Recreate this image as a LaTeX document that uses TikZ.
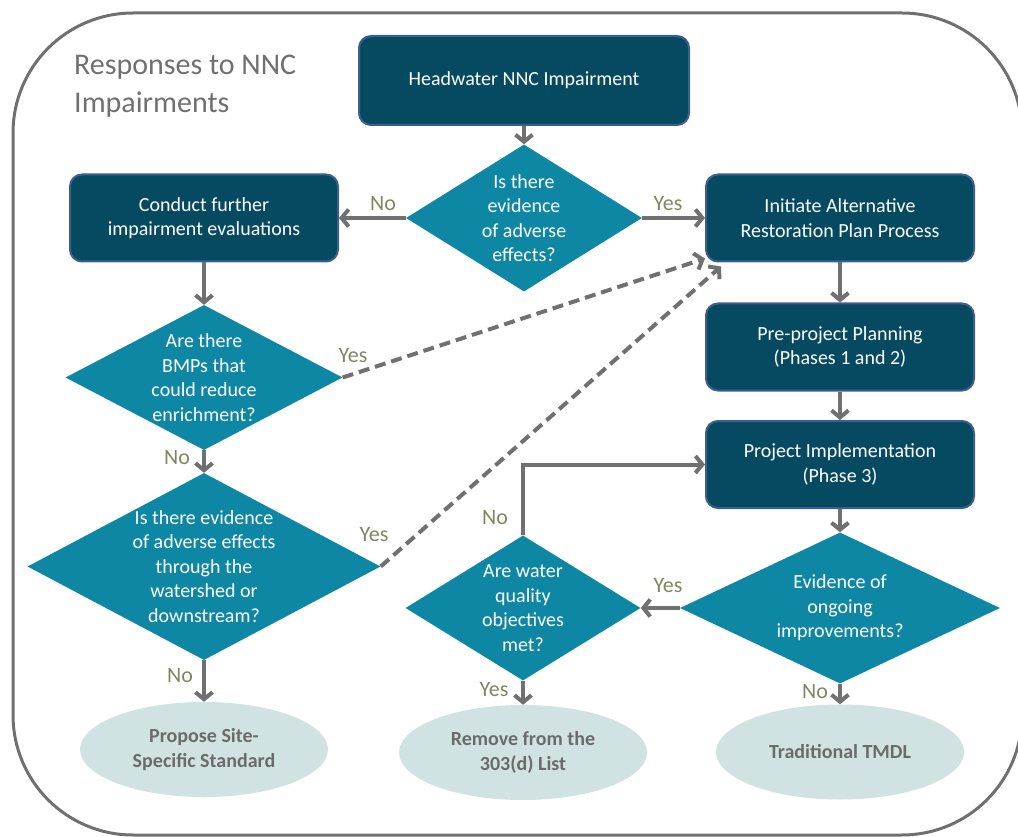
\documentclass[tikz,border=0pt]{standalone}
\usepackage{fontspec}
\setmainfont{Carlito}
\usetikzlibrary{shapes.geometric,arrows.meta}
\definecolor{boxblue}{HTML}{064A62}
\definecolor{boxedge}{HTML}{3C5F8E}
\definecolor{qteal}{HTML}{0E87A4}
\definecolor{endfill}{HTML}{D0E3E2}
\definecolor{endtext}{HTML}{6B6B6B}
\definecolor{linegray}{HTML}{707070}
\definecolor{labolive}{HTML}{7F8760}
\tikzset{
    frame/.style={draw=linegray, line width=3pt, rounded corners=120pt},
    stepbox/.style={draw=boxedge, line width=2pt, fill=boxblue, rounded corners=12pt,
      minimum width=268pt, minimum height=87pt, inner sep=0pt,
      text=white, align=center, font=\fontsize{20}{24.5}\selectfont},
    decision/.style={diamond, fill=qteal, inner sep=0pt},
    qtext/.style={text=white, align=center, inner sep=0pt, font=\fontsize{20}{24.5}\selectfont},
    endpoint/.style={ellipse, fill=endfill, minimum width=248pt, minimum height=95pt, inner sep=0pt,
      text=endtext, align=center, font=\bfseries\fontsize{20}{24.5}\selectfont},
    conn/.style={draw=linegray, line width=4pt, -{Straight Barb[length=7pt,width=17pt]}},
    maybe/.style={conn, dash pattern=on 11pt off 6pt},
    answer/.style={text=labolive, inner sep=0pt, font=\fontsize{22}{26}\selectfont},
  }
\begin{document}
\begin{tikzpicture}[x=1pt,y=-1pt]
    \useasboundingbox (0,0) rectangle (1018,837);
    \draw [frame] (13,13) rectangle (1022,835);
    \node [anchor=north west, inner sep=0pt, align=left, text=linegray,
      font=\fontsize{30}{38}\selectfont] (title) at (74,55) {Responses to NNC\\Impairments};
    % boxes
    \node [stepbox, minimum width=330pt, minimum height=89pt] (head) at (524,80.5) {Headwater NNC Impairment};
    \node [stepbox] (conduct) at (204,218) {Conduct further\\impairment evaluations};
    \node [stepbox] (init) at (840,218) {Initiate Alternative\\Restoration Plan Process};
    \node [stepbox] (pre) at (840,347) {Pre-project Planning\\(Phases 1 and 2)};
    \node [stepbox] (impl) at (840,464.5) {Project Implementation\\(Phase 3)};
    % questions
    \node [decision, minimum width=236pt, minimum height=147pt] (q1) at (524,218) {};
    \node [qtext] (q1t) at (q1) {Is there\\evidence\\of adverse\\effects?};
    \node [decision, minimum width=277pt, minimum height=145pt] (q2) at (204,377.5) {};
    \node [qtext] (q2t) at (q2) {Are there\\BMPs that\\could reduce\\enrichment?};
    \node [decision, minimum width=353pt, minimum height=187pt] (q3) at (204,566.5) {};
    \node [qtext] (q3t) at (q3) {Is there evidence\\of adverse effects\\through the\\watershed or\\downstream?};
    \node [decision, minimum width=235pt, minimum height=145pt] (q4) at (523,608) {};
    \node [qtext] (q4t) at (q4) {Are water\\quality\\objectives\\met?};
    \node [decision, minimum width=320pt, minimum height=151pt] (q5) at (840,608) {};
    \node [qtext] (q5t) at (q5) {Evidence of\\ongoing\\improvements?};
    % outcomes
    \node [endpoint] (e1) at (204,749.5) {Propose Site-\\Specific Standard};
    \node [endpoint] (e2) at (523,752.5) {Remove from the\\303(d) List};
    \node [endpoint] (e3) at (840,752) {Traditional TMDL};
    % connectors
    \draw [conn] (head.south) -- (q1.north);
    \draw [conn] (q1.west) -- (conduct.east);
    \draw [conn] (q1.east) -- (init.west);
    \draw [conn] (init.south) -- (pre.north);
    \draw [conn] (pre.south) -- (impl.north);
    \draw [conn] (conduct.south) -- (q2.north);
    \draw [conn] (q2.south) -- (q3.north);
    \draw [conn] (q3.south) -- (e1.north);
    \draw [maybe] (q2.east) -- ([yshift=4pt]init.south west);
    \draw [maybe] (q3.east) -- ([xshift=16pt,yshift=-4pt]init.south west);
    \draw [conn] (impl.south) -- (q5.north);
    \draw [conn] (q5.west) -- (q4.east);
    \draw [conn] (q4.north) |- (impl.west);
    \draw [conn] (q4.south) -- (e2.north);
    \draw [conn] (q5.south) -- (e3.north);
    % answers
    \node [answer] (a1) at (383,204) {No};
    \node [answer] (a2) at (668,204) {Yes};
    \node [answer] (a3) at (353,356) {Yes};
    \node [answer] (a4) at (177,458) {No};
    \node [answer] (a5) at (374,535) {Yes};
    \node [answer] (a6) at (180,676) {No};
    \node [answer] (a7) at (495,518) {No};
    \node [answer] (a8) at (668,586) {Yes};
    \node [answer] (a9) at (494,690) {Yes};
    \node [answer] (a10) at (815,692) {No};
\end{tikzpicture}
\end{document}
